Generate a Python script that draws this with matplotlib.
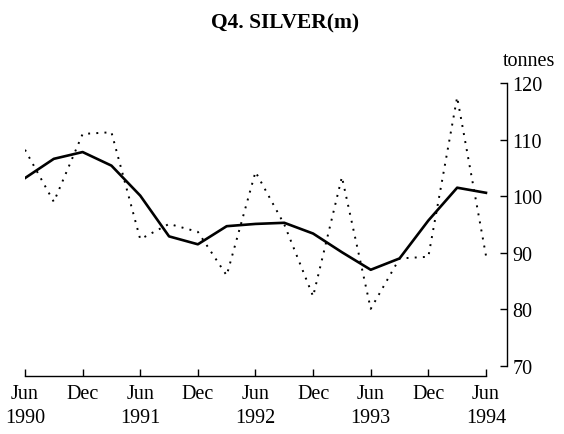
import matplotlib
matplotlib.use("Agg")
import matplotlib.pyplot as plt

# Quarterly observations, Jun 1990 .. Jun 1994
quarters = ["Jun 1990", "Sep 1990", "Dec 1990", "Mar 1991", "Jun 1991", "Sep 1991",
            "Dec 1991", "Mar 1992", "Jun 1992", "Sep 1992", "Dec 1992", "Mar 1993",
            "Jun 1993", "Sep 1993", "Dec 1993", "Mar 1994", "Jun 1994"]
actual = [108.2, 99.0, 111.0, 111.3, 92.4, 95.1, 93.7, 86.0, 104.3, 95.0,
          82.3, 103.4, 80.1, 89.0, 89.3, 117.5, 89.5]
trend = [103.2, 106.6, 107.8, 105.4, 100.1, 92.9, 91.5, 94.7, 95.1, 95.3,
         93.4, 90.1, 87.0, 89.0, 95.7, 101.5, 100.6]

tick_labels = ["Jun\n1990", "Dec", "Jun\n1991", "Dec", "Jun\n1992", "Dec",
               "Jun\n1993", "Dec", "Jun\n1994"]
y_ticks = [70, 80, 90, 100, 110, 120]

plt.rcParams["font.family"] = ["Liberation Serif", "DejaVu Serif"]

fig = plt.figure(figsize=(5.64, 4.35), dpi=100)
ax = fig.add_axes([25 / 564, 1 - 377 / 435, (507 - 25) / 564, (377 - 84) / 435])

x = list(range(len(quarters)))
ax.plot(x, actual, color="black", linestyle=(0, (1, 3.2)), linewidth=1.4)
ax.plot(x, trend, color="black", linestyle="-", linewidth=1.9)

ax.set_xlim(0, 16.73)
ax.set_ylim(68.23, 120)

for side in ("left", "top"):
    ax.spines[side].set_visible(False)
ax.spines["right"].set_bounds(70, 120)
ax.spines["bottom"].set_bounds(0, 16)
ax.spines["right"].set_linewidth(1.0)
ax.spines["bottom"].set_linewidth(1.0)

ax.yaxis.tick_right()
ax.set_yticks(y_ticks)
ax.set_yticklabels([str(v) for v in y_ticks])
ax.tick_params(axis="y", direction="in", length=5, width=1.0, pad=4,
               labelsize=14.5, right=True, left=False)

ax.set_xticks(range(0, 17, 2))
ax.set_xticklabels(tick_labels, linespacing=1.3)
ax.tick_params(axis="x", direction="in", length=5, width=1.0, pad=6,
               labelsize=14.5)
for lbl in ax.get_xticklabels():
    lbl.set_verticalalignment("top")

fig.text(503 / 564, 1 - 62 / 435, "tonnes", fontsize=14.5, ha="left", va="center")
fig.text(285 / 564, 1 - 23 / 435, "Q4. SILVER(m)", fontsize=15.5, fontweight="bold",
         ha="center", va="center")

fig.savefig("out.png", dpi=100)
